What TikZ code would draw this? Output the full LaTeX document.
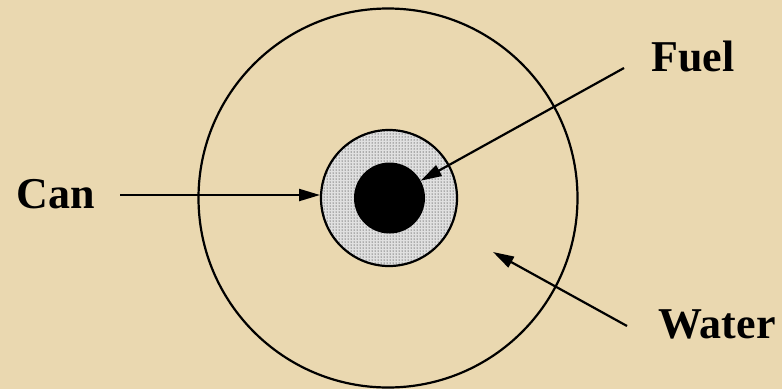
\documentclass[tikz,border=0pt]{standalone}
\usepackage{fontspec}
\setmainfont{Liberation Serif}
\usepackage{xcolor}
\usetikzlibrary{arrows.meta, patterns}
\definecolor{paper}{RGB}{234,216,176}

\begin{document}
\begin{tikzpicture}[x=1pt, y=-1pt, >={Triangle[length=21pt, width=12pt]},
        ring/.style={circle, draw, line width=2.2pt, inner sep=0pt},
        lbl/.style={anchor=base, font=\fontsize{44}{48}\selectfont\bfseries},
        pointer/.style={->, line width=2.2pt}]

        % background and picture size
        \fill[paper] (0,0) rectangle (782,389);
        \useasboundingbox (0,0) rectangle (782,389);

        \node (water) [ring, minimum size=379pt] at (388,198) {};
        \node (can) [ring, minimum size=136pt, fill=black!12, postaction={pattern=dots, pattern color=black}] at (389,198) {};
        \node (fuel) [circle, fill=black, inner sep=0pt, minimum size=71pt] at (389.5,198) {};

        \node (canlbl) [lbl] at (56,208) {Can};
        \node (fuellbl) [lbl] at (693,71) {Fuel};
        \node (waterlbl) [lbl] at (717,338) {Water};

        \coordinate (cantail) at (120,195);
        \coordinate (canhead) at (320,195);
        \coordinate (fueltail) at (624,68);
        \coordinate (watertail) at (627,326);
        \coordinate (waterhead) at (493,252);

        \draw[pointer] (cantail) -- (canhead);
        \draw[pointer] (fueltail) -- (fuel);
        \draw[pointer] (watertail) -- (waterhead);
    \end{tikzpicture}
\end{document}
